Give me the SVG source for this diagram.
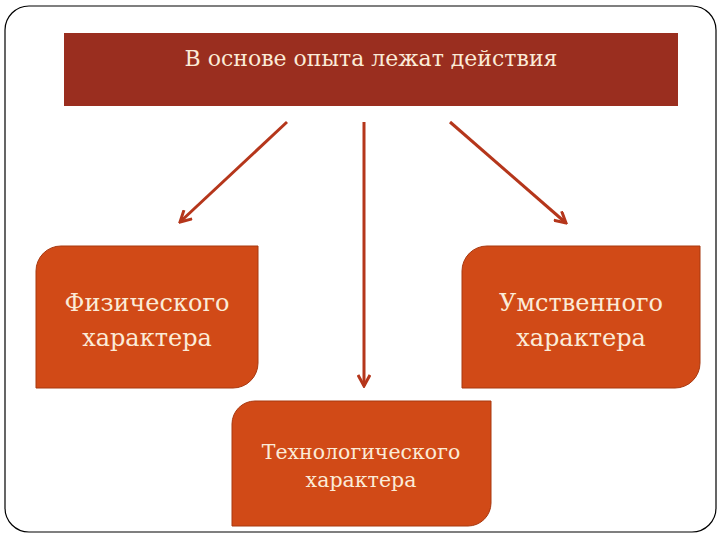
<svg xmlns="http://www.w3.org/2000/svg" width="720" height="540" viewBox="0 0 720 540">
<defs>
<style>
.t{font-family:"DejaVu Serif","Liberation Serif",serif;fill:#FBEBD8;text-anchor:middle}
.box{fill:#D14A17;stroke:#A8380F;stroke-width:1}
.arr{stroke:#B5361B;stroke-width:3;fill:none}
</style>
<marker id="ah" viewBox="0 0 14 14" refX="12" refY="7" markerWidth="14" markerHeight="14" markerUnits="userSpaceOnUse" orient="auto">
<path d="M1,1 L12,7 L1,13" fill="none" stroke="#B5361B" stroke-width="3"/>
</marker>
</defs>
<rect x="0" y="0" width="720" height="540" fill="#ffffff"/>
<rect x="5" y="6" width="711" height="526" rx="24" ry="24" fill="none" stroke="#000" stroke-width="1.2"/>
<g id="title">
<rect x="64" y="33" width="614" height="73" fill="#9A2E1F"/>
<text class="t" x="371" y="66" font-size="22">В основе опыта лежат действия</text>
</g>
<g id="connectors">
<line class="arr" x1="287" y1="122" x2="180" y2="222" marker-end="url(#ah)"/>
<line class="arr" x1="364" y1="122" x2="364" y2="386" marker-end="url(#ah)"/>
<line class="arr" x1="450" y1="122" x2="566" y2="223" marker-end="url(#ah)"/>
</g>
<g id="physical">
<path class="box" d="M61,246 H258 V363 A25,25 0 0 1 233,388 H36 V271 A25,25 0 0 1 61,246 Z"/>
<text class="t" x="147" y="311" font-size="24">Физического</text>
<text class="t" x="147" y="346" font-size="24">характера</text>
</g>
<g id="mental">
<path class="box" d="M487,246 H700 V363 A25,25 0 0 1 675,388 H462 V271 A25,25 0 0 1 487,246 Z"/>
<text class="t" x="581" y="311" font-size="24">Умственного</text>
<text class="t" x="581" y="346" font-size="24">характера</text>
</g>
<g id="tech">
<path class="box" d="M255,401 H491 V503 A23,23 0 0 1 468,526 H232 V424 A23,23 0 0 1 255,401 Z"/>
<text class="t" x="361" y="459" font-size="20.5">Технологического</text>
<text class="t" x="361" y="487" font-size="20.5">характера</text>
</g>
</svg>
